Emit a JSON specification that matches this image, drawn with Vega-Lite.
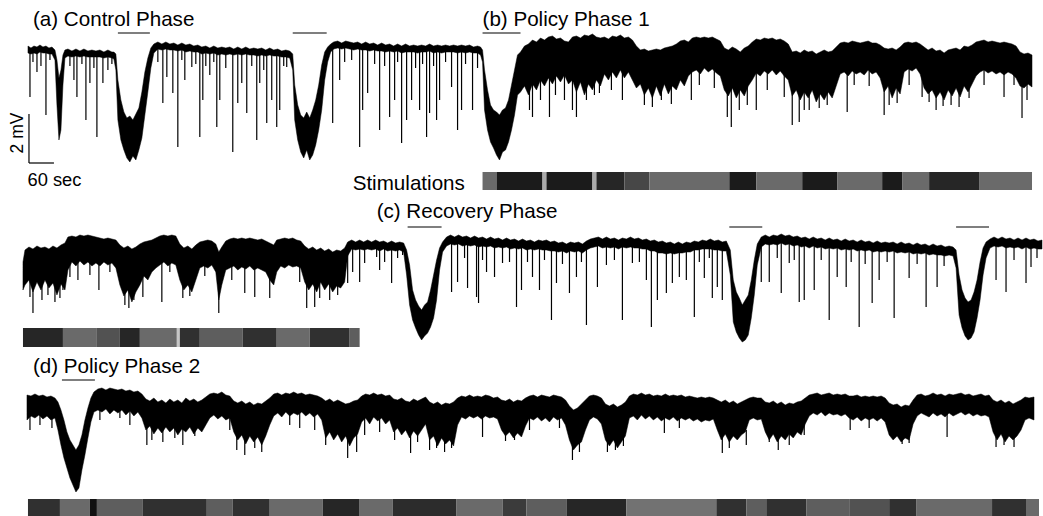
{
"$schema": "https://vega.github.io/schema/vega-lite/v6.json",
"width": 1043, "height": 516,
"autosize": {"type": "fit", "contains": "padding"},
"padding": 0,
"background": "white",
"config": {"view": {"stroke": null}, "font": "Liberation Sans"},
"datasets": {
"env": [
{"r":1,"t":28,"v":46,"v2":53},{"r":1,"t":31,"v":48,"v2":54},{"r":1,"t":34,"v":46,"v2":53},{"r":1,"t":37,"v":47,"v2":54},{"r":1,"t":40,"v":45,"v2":52},{"r":1,"t":43,"v":47,"v2":53},{"r":1,"t":46,"v":46,"v2":53},{"r":1,"t":49,"v":48,"v2":54},{"r":1,"t":52,"v":47,"v2":54},{"r":1,"t":55,"v":50,"v2":60},{"r":1,"t":57,"v":60,"v2":105},{"r":1,"t":59,"v":78,"v2":140},{"r":1,"t":61,"v":70,"v2":130},{"r":1,"t":63,"v":55,"v2":85},{"r":1,"t":65,"v":50,"v2":58},{"r":1,"t":68,"v":49,"v2":56},{"r":1,"t":72,"v":51,"v2":57},{"r":1,"t":76,"v":49,"v2":56},{"r":1,"t":80,"v":51,"v2":57},{"r":1,"t":84,"v":49,"v2":56},{"r":1,"t":88,"v":51,"v2":57},{"r":1,"t":92,"v":50,"v2":57},{"r":1,"t":96,"v":51,"v2":57},{"r":1,"t":100,"v":50,"v2":57},{"r":1,"t":104,"v":52,"v2":58},{"r":1,"t":108,"v":50,"v2":57},{"r":1,"t":112,"v":52,"v2":58},{"r":1,"t":114,"v":52,"v2":59},{"r":1,"t":116,"v":54,"v2":70},{"r":1,"t":118,"v":80,"v2":120},{"r":1,"t":121,"v":100,"v2":140},{"r":1,"t":124,"v":112,"v2":150},{"r":1,"t":127,"v":118,"v2":158},{"r":1,"t":130,"v":116,"v2":162},{"r":1,"t":133,"v":120,"v2":156},{"r":1,"t":136,"v":114,"v2":160},{"r":1,"t":139,"v":108,"v2":150},{"r":1,"t":142,"v":92,"v2":138},{"r":1,"t":145,"v":72,"v2":115},{"r":1,"t":148,"v":58,"v2":92},{"r":1,"t":151,"v":48,"v2":68},{"r":1,"t":154,"v":44,"v2":53},{"r":1,"t":158,"v":42,"v2":49},{"r":1,"t":162,"v":44,"v2":50},{"r":1,"t":166,"v":42,"v2":49},{"r":1,"t":170,"v":44,"v2":50},{"r":1,"t":174,"v":43,"v2":50},{"r":1,"t":178,"v":45,"v2":51},{"r":1,"t":182,"v":43,"v2":50},{"r":1,"t":186,"v":45,"v2":52},{"r":1,"t":190,"v":44,"v2":51},{"r":1,"t":194,"v":46,"v2":52},{"r":1,"t":198,"v":45,"v2":52},{"r":1,"t":202,"v":47,"v2":54},{"r":1,"t":206,"v":46,"v2":53},{"r":1,"t":210,"v":48,"v2":54},{"r":1,"t":214,"v":46,"v2":53},{"r":1,"t":218,"v":48,"v2":55},{"r":1,"t":222,"v":47,"v2":54},{"r":1,"t":226,"v":48,"v2":55},{"r":1,"t":230,"v":47,"v2":54},{"r":1,"t":234,"v":49,"v2":55},{"r":1,"t":238,"v":47,"v2":54},{"r":1,"t":242,"v":49,"v2":55},{"r":1,"t":246,"v":47,"v2":54},{"r":1,"t":250,"v":49,"v2":55},{"r":1,"t":254,"v":48,"v2":55},{"r":1,"t":258,"v":49,"v2":56},{"r":1,"t":262,"v":48,"v2":55},{"r":1,"t":266,"v":50,"v2":56},{"r":1,"t":270,"v":48,"v2":55},{"r":1,"t":274,"v":50,"v2":56},{"r":1,"t":278,"v":49,"v2":56},{"r":1,"t":282,"v":51,"v2":57},{"r":1,"t":286,"v":50,"v2":57},{"r":1,"t":290,"v":51,"v2":58},{"r":1,"t":293,"v":54,"v2":70},{"r":1,"t":295,"v":85,"v2":120},{"r":1,"t":298,"v":105,"v2":140},{"r":1,"t":301,"v":115,"v2":152},{"r":1,"t":304,"v":118,"v2":158},{"r":1,"t":307,"v":112,"v2":150},{"r":1,"t":310,"v":118,"v2":160},{"r":1,"t":313,"v":110,"v2":155},{"r":1,"t":316,"v":100,"v2":145},{"r":1,"t":319,"v":85,"v2":130},{"r":1,"t":322,"v":65,"v2":110},{"r":1,"t":325,"v":52,"v2":80},{"r":1,"t":328,"v":47,"v2":62},{"r":1,"t":331,"v":44,"v2":52},{"r":1,"t":334,"v":42,"v2":49},{"r":1,"t":338,"v":41,"v2":48},{"r":1,"t":342,"v":43,"v2":49},{"r":1,"t":346,"v":41,"v2":48},{"r":1,"t":350,"v":42,"v2":49},{"r":1,"t":354,"v":43,"v2":50},{"r":1,"t":358,"v":42,"v2":49},{"r":1,"t":362,"v":44,"v2":50},{"r":1,"t":366,"v":42,"v2":50},{"r":1,"t":370,"v":44,"v2":51},{"r":1,"t":374,"v":43,"v2":50},{"r":1,"t":378,"v":45,"v2":51},{"r":1,"t":382,"v":43,"v2":51},{"r":1,"t":386,"v":45,"v2":52},{"r":1,"t":390,"v":44,"v2":51},{"r":1,"t":394,"v":46,"v2":52},{"r":1,"t":398,"v":44,"v2":51},{"r":1,"t":402,"v":46,"v2":53},{"r":1,"t":406,"v":44,"v2":52},{"r":1,"t":410,"v":46,"v2":52},{"r":1,"t":414,"v":45,"v2":52},{"r":1,"t":418,"v":46,"v2":53},{"r":1,"t":422,"v":45,"v2":52},{"r":1,"t":426,"v":46,"v2":52},{"r":1,"t":430,"v":44,"v2":51},{"r":1,"t":434,"v":46,"v2":53},{"r":1,"t":438,"v":45,"v2":52},{"r":1,"t":442,"v":46,"v2":53},{"r":1,"t":446,"v":45,"v2":52},{"r":1,"t":450,"v":46,"v2":52},{"r":1,"t":454,"v":45,"v2":52},{"r":1,"t":458,"v":46,"v2":53},{"r":1,"t":462,"v":45,"v2":52},{"r":1,"t":466,"v":46,"v2":53},{"r":1,"t":470,"v":45,"v2":52},{"r":1,"t":474,"v":47,"v2":53},{"r":1,"t":478,"v":46,"v2":53},{"r":1,"t":481,"v":47,"v2":55},{"r":1,"t":483,"v":50,"v2":62},{"r":1,"t":485,"v":70,"v2":110},{"r":1,"t":488,"v":90,"v2":130},{"r":1,"t":491,"v":105,"v2":142},{"r":1,"t":494,"v":110,"v2":148},{"r":1,"t":497,"v":112,"v2":155},{"r":1,"t":500,"v":115,"v2":160},{"r":1,"t":503,"v":110,"v2":152},{"r":1,"t":506,"v":108,"v2":150},{"r":1,"t":509,"v":100,"v2":142},{"r":1,"t":512,"v":85,"v2":130},{"r":1,"t":515,"v":70,"v2":115},{"r":1,"t":518,"v":55,"v2":95},{"r":1,"t":521,"v":52,"v2":92},
{"r":1,"t":525,"v":46,"v2":86},{"r":1,"t":529,"v":44,"v2":95},{"r":1,"t":533,"v":40,"v2":84},{"r":1,"t":537,"v":42,"v2":90},{"r":1,"t":541,"v":38,"v2":80},{"r":1,"t":545,"v":40,"v2":86},{"r":1,"t":549,"v":37,"v2":78},{"r":1,"t":553,"v":36,"v2":84},{"r":1,"t":557,"v":39,"v2":76},{"r":1,"t":561,"v":38,"v2":82},{"r":1,"t":565,"v":41,"v2":75},{"r":1,"t":569,"v":42,"v2":84},{"r":1,"t":573,"v":37,"v2":80},{"r":1,"t":577,"v":36,"v2":92},{"r":1,"t":581,"v":38,"v2":82},{"r":1,"t":585,"v":35,"v2":95},{"r":1,"t":589,"v":36,"v2":84},{"r":1,"t":593,"v":34,"v2":90},{"r":1,"t":597,"v":37,"v2":80},{"r":1,"t":601,"v":38,"v2":86},{"r":1,"t":605,"v":37,"v2":74},{"r":1,"t":609,"v":39,"v2":80},{"r":1,"t":613,"v":36,"v2":72},{"r":1,"t":617,"v":37,"v2":78},{"r":1,"t":621,"v":35,"v2":70},{"r":1,"t":625,"v":38,"v2":78},{"r":1,"t":629,"v":37,"v2":72},{"r":1,"t":633,"v":40,"v2":80},{"r":1,"t":637,"v":46,"v2":88},{"r":1,"t":641,"v":50,"v2":84},{"r":1,"t":645,"v":49,"v2":95},{"r":1,"t":649,"v":51,"v2":88},{"r":1,"t":653,"v":50,"v2":98},{"r":1,"t":657,"v":49,"v2":86},{"r":1,"t":661,"v":50,"v2":96},{"r":1,"t":665,"v":48,"v2":84},{"r":1,"t":669,"v":47,"v2":94},{"r":1,"t":673,"v":46,"v2":86},{"r":1,"t":677,"v":44,"v2":90},{"r":1,"t":681,"v":41,"v2":80},{"r":1,"t":685,"v":40,"v2":86},{"r":1,"t":689,"v":42,"v2":76},{"r":1,"t":693,"v":38,"v2":72},{"r":1,"t":697,"v":37,"v2":70},{"r":1,"t":701,"v":38,"v2":74},{"r":1,"t":705,"v":37,"v2":68},{"r":1,"t":709,"v":38,"v2":72},{"r":1,"t":713,"v":37,"v2":69},{"r":1,"t":717,"v":39,"v2":73},{"r":1,"t":721,"v":41,"v2":76},{"r":1,"t":725,"v":48,"v2":90},{"r":1,"t":729,"v":50,"v2":96},{"r":1,"t":733,"v":47,"v2":88},{"r":1,"t":737,"v":49,"v2":98},{"r":1,"t":741,"v":52,"v2":90},{"r":1,"t":745,"v":48,"v2":96},{"r":1,"t":749,"v":46,"v2":86},{"r":1,"t":753,"v":42,"v2":80},{"r":1,"t":757,"v":39,"v2":73},{"r":1,"t":761,"v":40,"v2":76},{"r":1,"t":765,"v":38,"v2":71},{"r":1,"t":769,"v":39,"v2":74},{"r":1,"t":773,"v":38,"v2":70},{"r":1,"t":777,"v":40,"v2":75},{"r":1,"t":781,"v":39,"v2":71},{"r":1,"t":785,"v":41,"v2":76},{"r":1,"t":789,"v":44,"v2":80},{"r":1,"t":793,"v":52,"v2":96},{"r":1,"t":797,"v":51,"v2":90},{"r":1,"t":801,"v":53,"v2":100},{"r":1,"t":805,"v":50,"v2":92},{"r":1,"t":809,"v":52,"v2":98},{"r":1,"t":813,"v":51,"v2":90},{"r":1,"t":817,"v":54,"v2":102},{"r":1,"t":821,"v":52,"v2":94},{"r":1,"t":825,"v":50,"v2":100},{"r":1,"t":829,"v":52,"v2":92},{"r":1,"t":833,"v":51,"v2":98},{"r":1,"t":837,"v":47,"v2":86},{"r":1,"t":841,"v":43,"v2":74},{"r":1,"t":845,"v":42,"v2":72},{"r":1,"t":849,"v":43,"v2":76},{"r":1,"t":853,"v":41,"v2":71},{"r":1,"t":857,"v":42,"v2":74},{"r":1,"t":861,"v":43,"v2":72},{"r":1,"t":865,"v":42,"v2":75},{"r":1,"t":869,"v":41,"v2":70},{"r":1,"t":873,"v":43,"v2":74},{"r":1,"t":877,"v":43,"v2":72},{"r":1,"t":881,"v":45,"v2":78},{"r":1,"t":885,"v":48,"v2":92},{"r":1,"t":889,"v":49,"v2":86},{"r":1,"t":893,"v":48,"v2":98},{"r":1,"t":897,"v":50,"v2":88},{"r":1,"t":901,"v":47,"v2":94},{"r":1,"t":905,"v":43,"v2":72},{"r":1,"t":909,"v":42,"v2":69},{"r":1,"t":913,"v":43,"v2":71},{"r":1,"t":917,"v":42,"v2":68},{"r":1,"t":921,"v":44,"v2":74},{"r":1,"t":925,"v":47,"v2":88},{"r":1,"t":929,"v":50,"v2":94},{"r":1,"t":933,"v":48,"v2":90},{"r":1,"t":937,"v":51,"v2":98},{"r":1,"t":941,"v":50,"v2":92},{"r":1,"t":945,"v":53,"v2":100},{"r":1,"t":949,"v":50,"v2":90},{"r":1,"t":953,"v":49,"v2":96},{"r":1,"t":957,"v":48,"v2":88},{"r":1,"t":961,"v":50,"v2":97},{"r":1,"t":965,"v":46,"v2":86},{"r":1,"t":969,"v":47,"v2":92},{"r":1,"t":973,"v":45,"v2":84},{"r":1,"t":977,"v":42,"v2":76},{"r":1,"t":981,"v":41,"v2":72},{"r":1,"t":985,"v":40,"v2":70},{"r":1,"t":989,"v":42,"v2":73},{"r":1,"t":993,"v":41,"v2":71},{"r":1,"t":997,"v":42,"v2":74},{"r":1,"t":1001,"v":43,"v2":72},{"r":1,"t":1005,"v":42,"v2":75},{"r":1,"t":1009,"v":43,"v2":72},{"r":1,"t":1013,"v":44,"v2":74},{"r":1,"t":1017,"v":46,"v2":78},{"r":1,"t":1021,"v":52,"v2":86},{"r":1,"t":1025,"v":54,"v2":88},{"r":1,"t":1029,"v":53,"v2":84},{"r":1,"t":1033,"v":55,"v2":87},
{"r":2,"t":23,"v":262,"v2":290},{"r":2,"t":25,"v":250,"v2":285},{"r":2,"t":29,"v":247,"v2":280},{"r":2,"t":33,"v":249,"v2":292},{"r":2,"t":37,"v":246,"v2":282},{"r":2,"t":41,"v":248,"v2":290},{"r":2,"t":45,"v":247,"v2":280},{"r":2,"t":49,"v":249,"v2":288},{"r":2,"t":53,"v":246,"v2":283},{"r":2,"t":57,"v":248,"v2":295},{"r":2,"t":61,"v":245,"v2":284},{"r":2,"t":65,"v":243,"v2":290},{"r":2,"t":68,"v":237,"v2":270},{"r":2,"t":72,"v":236,"v2":262},{"r":2,"t":76,"v":237,"v2":266},{"r":2,"t":80,"v":235,"v2":261},{"r":2,"t":84,"v":236,"v2":265},{"r":2,"t":88,"v":235,"v2":262},{"r":2,"t":92,"v":236,"v2":266},{"r":2,"t":96,"v":237,"v2":263},{"r":2,"t":100,"v":238,"v2":266},{"r":2,"t":104,"v":239,"v2":262},{"r":2,"t":108,"v":238,"v2":265},{"r":2,"t":112,"v":239,"v2":263},{"r":2,"t":116,"v":240,"v2":268},{"r":2,"t":120,"v":245,"v2":285},{"r":2,"t":124,"v":248,"v2":296},{"r":2,"t":128,"v":246,"v2":290},{"r":2,"t":132,"v":249,"v2":302},{"r":2,"t":136,"v":247,"v2":292},{"r":2,"t":140,"v":244,"v2":285},{"r":2,"t":144,"v":242,"v2":276},{"r":2,"t":148,"v":241,"v2":280},{"r":2,"t":152,"v":240,"v2":272},{"r":2,"t":156,"v":238,"v2":268},{"r":2,"t":160,"v":236,"v2":265},{"r":2,"t":164,"v":235,"v2":262},{"r":2,"t":168,"v":236,"v2":266},{"r":2,"t":172,"v":235,"v2":263},{"r":2,"t":176,"v":236,"v2":265},{"r":2,"t":180,"v":244,"v2":280},{"r":2,"t":184,"v":248,"v2":290},{"r":2,"t":188,"v":246,"v2":285},{"r":2,"t":192,"v":249,"v2":292},{"r":2,"t":196,"v":245,"v2":280},{"r":2,"t":200,"v":242,"v2":268},{"r":2,"t":204,"v":241,"v2":266},{"r":2,"t":208,"v":240,"v2":268},{"r":2,"t":212,"v":241,"v2":265},{"r":2,"t":216,"v":244,"v2":272},{"r":2,"t":219,"v":252,"v2":300},{"r":2,"t":222,"v":247,"v2":285},{"r":2,"t":226,"v":241,"v2":270},{"r":2,"t":230,"v":239,"v2":268},{"r":2,"t":234,"v":238,"v2":266},{"r":2,"t":238,"v":239,"v2":270},{"r":2,"t":242,"v":238,"v2":267},{"r":2,"t":246,"v":239,"v2":269},{"r":2,"t":250,"v":238,"v2":266},{"r":2,"t":254,"v":239,"v2":270},{"r":2,"t":258,"v":240,"v2":268},{"r":2,"t":262,"v":239,"v2":270},{"r":2,"t":266,"v":241,"v2":272},{"r":2,"t":270,"v":243,"v2":280},{"r":2,"t":274,"v":245,"v2":285},{"r":2,"t":277,"v":240,"v2":272},{"r":2,"t":281,"v":239,"v2":266},{"r":2,"t":285,"v":238,"v2":268},{"r":2,"t":289,"v":239,"v2":265},{"r":2,"t":293,"v":238,"v2":267},{"r":2,"t":297,"v":240,"v2":266},{"r":2,"t":301,"v":241,"v2":268},{"r":2,"t":305,"v":246,"v2":282},{"r":2,"t":309,"v":249,"v2":290},{"r":2,"t":313,"v":247,"v2":284},{"r":2,"t":317,"v":250,"v2":292},{"r":2,"t":321,"v":248,"v2":282},{"r":2,"t":325,"v":251,"v2":290},{"r":2,"t":329,"v":249,"v2":284},{"r":2,"t":333,"v":252,"v2":292},{"r":2,"t":337,"v":250,"v2":286},{"r":2,"t":341,"v":251,"v2":288},{"r":2,"t":345,"v":248,"v2":282},
{"r":2,"t":348,"v":242,"v2":256},{"r":2,"t":352,"v":240,"v2":249},{"r":2,"t":356,"v":242,"v2":250},{"r":2,"t":360,"v":240,"v2":249},{"r":2,"t":364,"v":242,"v2":250},{"r":2,"t":368,"v":240,"v2":249},{"r":2,"t":372,"v":242,"v2":250},{"r":2,"t":376,"v":240,"v2":249},{"r":2,"t":380,"v":242,"v2":251},{"r":2,"t":384,"v":241,"v2":249},{"r":2,"t":388,"v":243,"v2":251},{"r":2,"t":392,"v":241,"v2":250},{"r":2,"t":396,"v":243,"v2":251},{"r":2,"t":400,"v":242,"v2":250},{"r":2,"t":404,"v":243,"v2":252},{"r":2,"t":407,"v":250,"v2":275},{"r":2,"t":410,"v":265,"v2":305},{"r":2,"t":413,"v":290,"v2":320},{"r":2,"t":416,"v":300,"v2":328},{"r":2,"t":419,"v":306,"v2":335},{"r":2,"t":422,"v":310,"v2":340},{"r":2,"t":425,"v":305,"v2":336},{"r":2,"t":428,"v":302,"v2":333},{"r":2,"t":431,"v":290,"v2":327},{"r":2,"t":434,"v":275,"v2":318},{"r":2,"t":437,"v":260,"v2":300},{"r":2,"t":440,"v":248,"v2":270},{"r":2,"t":443,"v":242,"v2":252},{"r":2,"t":447,"v":237,"v2":246},{"r":2,"t":451,"v":235,"v2":244},{"r":2,"t":455,"v":237,"v2":245},{"r":2,"t":459,"v":235,"v2":244},{"r":2,"t":463,"v":237,"v2":246},{"r":2,"t":467,"v":236,"v2":245},{"r":2,"t":471,"v":238,"v2":246},{"r":2,"t":475,"v":236,"v2":245},{"r":2,"t":479,"v":238,"v2":247},{"r":2,"t":483,"v":237,"v2":246},{"r":2,"t":487,"v":239,"v2":247},{"r":2,"t":491,"v":237,"v2":246},{"r":2,"t":495,"v":239,"v2":248},{"r":2,"t":499,"v":238,"v2":247},{"r":2,"t":503,"v":240,"v2":248},{"r":2,"t":507,"v":238,"v2":247},{"r":2,"t":511,"v":240,"v2":249},{"r":2,"t":515,"v":239,"v2":248},{"r":2,"t":519,"v":241,"v2":249},{"r":2,"t":523,"v":239,"v2":248},{"r":2,"t":527,"v":241,"v2":250},{"r":2,"t":531,"v":240,"v2":249},{"r":2,"t":535,"v":242,"v2":250},{"r":2,"t":539,"v":240,"v2":249},{"r":2,"t":543,"v":241,"v2":250},{"r":2,"t":547,"v":240,"v2":250},{"r":2,"t":551,"v":242,"v2":251},{"r":2,"t":555,"v":241,"v2":251},{"r":2,"t":559,"v":243,"v2":252},{"r":2,"t":563,"v":242,"v2":251},{"r":2,"t":567,"v":244,"v2":253},{"r":2,"t":571,"v":242,"v2":251},{"r":2,"t":575,"v":243,"v2":252},{"r":2,"t":579,"v":242,"v2":251},{"r":2,"t":583,"v":244,"v2":253},{"r":2,"t":587,"v":241,"v2":250},{"r":2,"t":591,"v":239,"v2":248},{"r":2,"t":595,"v":238,"v2":247},{"r":2,"t":599,"v":237,"v2":246},{"r":2,"t":603,"v":239,"v2":248},{"r":2,"t":607,"v":237,"v2":247},{"r":2,"t":611,"v":239,"v2":248},{"r":2,"t":615,"v":238,"v2":247},{"r":2,"t":619,"v":240,"v2":249},{"r":2,"t":623,"v":238,"v2":247},{"r":2,"t":627,"v":239,"v2":248},{"r":2,"t":631,"v":237,"v2":247},{"r":2,"t":635,"v":239,"v2":248},{"r":2,"t":639,"v":238,"v2":248},{"r":2,"t":643,"v":240,"v2":249},{"r":2,"t":647,"v":239,"v2":249},{"r":2,"t":651,"v":241,"v2":251},{"r":2,"t":655,"v":240,"v2":251},{"r":2,"t":659,"v":242,"v2":253},{"r":2,"t":663,"v":241,"v2":253},{"r":2,"t":667,"v":243,"v2":254},{"r":2,"t":671,"v":242,"v2":253},{"r":2,"t":675,"v":244,"v2":254},{"r":2,"t":679,"v":242,"v2":253},{"r":2,"t":683,"v":244,"v2":253},{"r":2,"t":687,"v":242,"v2":252},{"r":2,"t":691,"v":243,"v2":252},{"r":2,"t":695,"v":241,"v2":250},{"r":2,"t":699,"v":242,"v2":250},{"r":2,"t":703,"v":240,"v2":249},{"r":2,"t":707,"v":241,"v2":249},{"r":2,"t":711,"v":239,"v2":249},{"r":2,"t":715,"v":241,"v2":250},{"r":2,"t":719,"v":240,"v2":250},{"r":2,"t":723,"v":242,"v2":251},{"r":2,"t":727,"v":241,"v2":251},{"r":2,"t":731,"v":250,"v2":275},{"r":2,"t":734,"v":280,"v2":322},{"r":2,"t":737,"v":292,"v2":332},{"r":2,"t":740,"v":298,"v2":338},{"r":2,"t":743,"v":305,"v2":342},{"r":2,"t":746,"v":300,"v2":340},{"r":2,"t":749,"v":295,"v2":335},{"r":2,"t":752,"v":280,"v2":318},{"r":2,"t":755,"v":260,"v2":295},{"r":2,"t":758,"v":244,"v2":265},{"r":2,"t":762,"v":237,"v2":247},{"r":2,"t":766,"v":235,"v2":244},{"r":2,"t":770,"v":237,"v2":245},{"r":2,"t":774,"v":235,"v2":244},{"r":2,"t":778,"v":236,"v2":245},{"r":2,"t":782,"v":234,"v2":243},{"r":2,"t":786,"v":236,"v2":245},{"r":2,"t":790,"v":235,"v2":244},{"r":2,"t":794,"v":237,"v2":246},{"r":2,"t":798,"v":236,"v2":245},{"r":2,"t":802,"v":238,"v2":247},{"r":2,"t":806,"v":237,"v2":246},{"r":2,"t":810,"v":239,"v2":248},{"r":2,"t":814,"v":237,"v2":246},{"r":2,"t":818,"v":239,"v2":248},{"r":2,"t":822,"v":238,"v2":247},{"r":2,"t":826,"v":240,"v2":249},{"r":2,"t":830,"v":238,"v2":248},{"r":2,"t":834,"v":240,"v2":249},{"r":2,"t":838,"v":239,"v2":248},{"r":2,"t":842,"v":241,"v2":250},{"r":2,"t":846,"v":239,"v2":249},{"r":2,"t":850,"v":241,"v2":250},{"r":2,"t":854,"v":240,"v2":249},{"r":2,"t":858,"v":242,"v2":251},{"r":2,"t":862,"v":240,"v2":250},{"r":2,"t":866,"v":242,"v2":251},{"r":2,"t":870,"v":241,"v2":250},{"r":2,"t":874,"v":243,"v2":252},{"r":2,"t":878,"v":241,"v2":251},{"r":2,"t":882,"v":243,"v2":252},{"r":2,"t":886,"v":242,"v2":251},{"r":2,"t":890,"v":243,"v2":252},{"r":2,"t":894,"v":242,"v2":251},{"r":2,"t":898,"v":244,"v2":253},{"r":2,"t":902,"v":242,"v2":252},{"r":2,"t":906,"v":244,"v2":253},{"r":2,"t":910,"v":243,"v2":252},{"r":2,"t":914,"v":245,"v2":254},{"r":2,"t":918,"v":243,"v2":253},{"r":2,"t":922,"v":245,"v2":254},{"r":2,"t":926,"v":244,"v2":253},{"r":2,"t":930,"v":246,"v2":255},{"r":2,"t":934,"v":244,"v2":254},{"r":2,"t":938,"v":246,"v2":255},{"r":2,"t":942,"v":245,"v2":255},{"r":2,"t":946,"v":247,"v2":256},{"r":2,"t":950,"v":246,"v2":255},{"r":2,"t":954,"v":247,"v2":256},{"r":2,"t":957,"v":250,"v2":268},{"r":2,"t":960,"v":275,"v2":315},{"r":2,"t":963,"v":290,"v2":328},{"r":2,"t":966,"v":298,"v2":336},{"r":2,"t":969,"v":302,"v2":340},{"r":2,"t":972,"v":300,"v2":338},{"r":2,"t":975,"v":292,"v2":332},{"r":2,"t":978,"v":280,"v2":318},{"r":2,"t":981,"v":262,"v2":300},{"r":2,"t":984,"v":248,"v2":275},{"r":2,"t":987,"v":242,"v2":258},{"r":2,"t":991,"v":239,"v2":248},{"r":2,"t":995,"v":237,"v2":246},{"r":2,"t":999,"v":239,"v2":247},{"r":2,"t":1003,"v":237,"v2":246},{"r":2,"t":1007,"v":239,"v2":248},{"r":2,"t":1011,"v":238,"v2":247},{"r":2,"t":1015,"v":240,"v2":248},{"r":2,"t":1019,"v":238,"v2":247},{"r":2,"t":1023,"v":240,"v2":249},{"r":2,"t":1027,"v":238,"v2":247},{"r":2,"t":1031,"v":240,"v2":249},{"r":2,"t":1035,"v":239,"v2":248},{"r":2,"t":1039,"v":241,"v2":249},{"r":2,"t":1043,"v":240,"v2":249},
{"r":3,"t":27,"v":395,"v2":420},{"r":3,"t":31,"v":396,"v2":416},{"r":3,"t":35,"v":394,"v2":418},{"r":3,"t":39,"v":396,"v2":415},{"r":3,"t":43,"v":395,"v2":419},{"r":3,"t":47,"v":397,"v2":416},{"r":3,"t":51,"v":396,"v2":420},{"r":3,"t":55,"v":398,"v2":418},{"r":3,"t":58,"v":402,"v2":430},{"r":3,"t":61,"v":410,"v2":445},{"r":3,"t":64,"v":420,"v2":458},{"r":3,"t":67,"v":432,"v2":468},{"r":3,"t":70,"v":440,"v2":478},{"r":3,"t":73,"v":445,"v2":485},{"r":3,"t":76,"v":450,"v2":492},{"r":3,"t":79,"v":445,"v2":488},{"r":3,"t":82,"v":435,"v2":470},{"r":3,"t":85,"v":420,"v2":455},{"r":3,"t":88,"v":408,"v2":438},{"r":3,"t":91,"v":398,"v2":422},{"r":3,"t":94,"v":392,"v2":412},{"r":3,"t":98,"v":389,"v2":410},{"r":3,"t":102,"v":388,"v2":412},{"r":3,"t":106,"v":390,"v2":409},{"r":3,"t":110,"v":388,"v2":414},{"r":3,"t":114,"v":389,"v2":410},{"r":3,"t":118,"v":390,"v2":413},{"r":3,"t":122,"v":389,"v2":410},{"r":3,"t":126,"v":391,"v2":415},{"r":3,"t":130,"v":390,"v2":411},{"r":3,"t":134,"v":392,"v2":416},{"r":3,"t":138,"v":391,"v2":412},{"r":3,"t":142,"v":394,"v2":418},{"r":3,"t":146,"v":399,"v2":430},{"r":3,"t":150,"v":401,"v2":426},{"r":3,"t":154,"v":398,"v2":434},{"r":3,"t":158,"v":402,"v2":428},{"r":3,"t":162,"v":400,"v2":433},{"r":3,"t":166,"v":403,"v2":427},{"r":3,"t":170,"v":399,"v2":432},{"r":3,"t":174,"v":402,"v2":428},{"r":3,"t":178,"v":400,"v2":435},{"r":3,"t":182,"v":403,"v2":429},{"r":3,"t":186,"v":398,"v2":432},{"r":3,"t":190,"v":401,"v2":427},{"r":3,"t":194,"v":399,"v2":434},{"r":3,"t":198,"v":402,"v2":428},{"r":3,"t":202,"v":400,"v2":432},{"r":3,"t":206,"v":397,"v2":425},{"r":3,"t":210,"v":394,"v2":418},{"r":3,"t":214,"v":393,"v2":415},{"r":3,"t":218,"v":394,"v2":419},{"r":3,"t":222,"v":392,"v2":416},{"r":3,"t":226,"v":395,"v2":420},{"r":3,"t":230,"v":396,"v2":418},{"r":3,"t":234,"v":401,"v2":432},{"r":3,"t":238,"v":403,"v2":440},{"r":3,"t":242,"v":401,"v2":435},{"r":3,"t":246,"v":404,"v2":444},{"r":3,"t":250,"v":402,"v2":436},{"r":3,"t":254,"v":405,"v2":442},{"r":3,"t":258,"v":403,"v2":437},{"r":3,"t":262,"v":404,"v2":445},{"r":3,"t":266,"v":401,"v2":436},{"r":3,"t":270,"v":398,"v2":425},{"r":3,"t":274,"v":394,"v2":416},{"r":3,"t":278,"v":393,"v2":413},{"r":3,"t":282,"v":395,"v2":417},{"r":3,"t":286,"v":393,"v2":412},{"r":3,"t":290,"v":394,"v2":416},{"r":3,"t":294,"v":392,"v2":413},{"r":3,"t":298,"v":394,"v2":415},{"r":3,"t":302,"v":393,"v2":412},{"r":3,"t":306,"v":395,"v2":416},{"r":3,"t":310,"v":394,"v2":413},{"r":3,"t":314,"v":395,"v2":417},{"r":3,"t":318,"v":396,"v2":414},{"r":3,"t":322,"v":398,"v2":420},{"r":3,"t":326,"v":401,"v2":438},{"r":3,"t":330,"v":399,"v2":432},{"r":3,"t":334,"v":402,"v2":440},{"r":3,"t":338,"v":400,"v2":434},{"r":3,"t":342,"v":402,"v2":442},{"r":3,"t":346,"v":404,"v2":436},{"r":3,"t":350,"v":403,"v2":446},{"r":3,"t":354,"v":401,"v2":438},{"r":3,"t":358,"v":400,"v2":434},{"r":3,"t":362,"v":396,"v2":422},{"r":3,"t":366,"v":394,"v2":418},{"r":3,"t":370,"v":395,"v2":424},{"r":3,"t":374,"v":393,"v2":417},{"r":3,"t":378,"v":395,"v2":421},{"r":3,"t":382,"v":394,"v2":418},{"r":3,"t":386,"v":396,"v2":424},{"r":3,"t":390,"v":395,"v2":420},{"r":3,"t":394,"v":399,"v2":432},{"r":3,"t":398,"v":400,"v2":428},{"r":3,"t":402,"v":398,"v2":435},{"r":3,"t":406,"v":401,"v2":430},{"r":3,"t":410,"v":402,"v2":438},{"r":3,"t":414,"v":399,"v2":431},{"r":3,"t":418,"v":401,"v2":436},{"r":3,"t":422,"v":399,"v2":430},{"r":3,"t":426,"v":397,"v2":424},{"r":3,"t":430,"v":402,"v2":440},{"r":3,"t":434,"v":404,"v2":436},{"r":3,"t":438,"v":402,"v2":446},{"r":3,"t":442,"v":405,"v2":438},{"r":3,"t":446,"v":403,"v2":444},{"r":3,"t":450,"v":404,"v2":440},{"r":3,"t":454,"v":402,"v2":446},{"r":3,"t":458,"v":398,"v2":425},{"r":3,"t":462,"v":396,"v2":417},{"r":3,"t":466,"v":397,"v2":419},{"r":3,"t":470,"v":395,"v2":416},{"r":3,"t":474,"v":397,"v2":418},{"r":3,"t":478,"v":396,"v2":416},{"r":3,"t":482,"v":397,"v2":419},{"r":3,"t":486,"v":395,"v2":416},{"r":3,"t":490,"v":396,"v2":418},{"r":3,"t":494,"v":398,"v2":417},{"r":3,"t":498,"v":397,"v2":419},{"r":3,"t":502,"v":400,"v2":430},{"r":3,"t":506,"v":401,"v2":436},{"r":3,"t":510,"v":399,"v2":432},{"r":3,"t":514,"v":402,"v2":438},{"r":3,"t":518,"v":400,"v2":433},{"r":3,"t":522,"v":401,"v2":437},{"r":3,"t":526,"v":398,"v2":426},{"r":3,"t":530,"v":396,"v2":418},{"r":3,"t":534,"v":395,"v2":420},{"r":3,"t":538,"v":397,"v2":417},{"r":3,"t":542,"v":395,"v2":421},{"r":3,"t":546,"v":396,"v2":418},{"r":3,"t":550,"v":397,"v2":422},{"r":3,"t":554,"v":395,"v2":417},{"r":3,"t":558,"v":396,"v2":420},{"r":3,"t":562,"v":397,"v2":418},{"r":3,"t":566,"v":400,"v2":425},{"r":3,"t":570,"v":406,"v2":440},{"r":3,"t":574,"v":410,"v2":450},{"r":3,"t":578,"v":408,"v2":445},{"r":3,"t":582,"v":404,"v2":442},{"r":3,"t":586,"v":400,"v2":430},{"r":3,"t":590,"v":396,"v2":420},{"r":3,"t":594,"v":395,"v2":417},{"r":3,"t":598,"v":396,"v2":419},{"r":3,"t":602,"v":398,"v2":424},{"r":3,"t":606,"v":404,"v2":440},{"r":3,"t":610,"v":406,"v2":446},{"r":3,"t":614,"v":404,"v2":440},{"r":3,"t":618,"v":407,"v2":448},{"r":3,"t":622,"v":405,"v2":442},{"r":3,"t":626,"v":402,"v2":436},{"r":3,"t":630,"v":396,"v2":418},{"r":3,"t":634,"v":394,"v2":416},{"r":3,"t":638,"v":395,"v2":420},{"r":3,"t":642,"v":393,"v2":415},{"r":3,"t":646,"v":395,"v2":419},{"r":3,"t":650,"v":394,"v2":416},{"r":3,"t":654,"v":396,"v2":420},{"r":3,"t":658,"v":395,"v2":417},{"r":3,"t":662,"v":396,"v2":421},{"r":3,"t":666,"v":394,"v2":418},{"r":3,"t":670,"v":396,"v2":420},{"r":3,"t":674,"v":395,"v2":417},{"r":3,"t":678,"v":396,"v2":421},{"r":3,"t":682,"v":395,"v2":418},{"r":3,"t":686,"v":397,"v2":420},{"r":3,"t":690,"v":396,"v2":418},{"r":3,"t":694,"v":397,"v2":421},{"r":3,"t":698,"v":398,"v2":419},{"r":3,"t":702,"v":397,"v2":422},{"r":3,"t":706,"v":398,"v2":420},{"r":3,"t":710,"v":397,"v2":421},{"r":3,"t":714,"v":398,"v2":419},{"r":3,"t":718,"v":400,"v2":430},{"r":3,"t":722,"v":402,"v2":440},{"r":3,"t":726,"v":400,"v2":434},{"r":3,"t":730,"v":403,"v2":442},{"r":3,"t":734,"v":401,"v2":436},{"r":3,"t":738,"v":404,"v2":440},{"r":3,"t":742,"v":402,"v2":435},{"r":3,"t":746,"v":400,"v2":432},{"r":3,"t":750,"v":398,"v2":420},{"r":3,"t":754,"v":397,"v2":418},{"r":3,"t":758,"v":398,"v2":420},{"r":3,"t":762,"v":398,"v2":419},{"r":3,"t":766,"v":402,"v2":432},{"r":3,"t":770,"v":403,"v2":440},{"r":3,"t":774,"v":401,"v2":434},{"r":3,"t":778,"v":404,"v2":442},{"r":3,"t":782,"v":402,"v2":436},{"r":3,"t":786,"v":405,"v2":440},{"r":3,"t":790,"v":403,"v2":434},{"r":3,"t":794,"v":404,"v2":438},{"r":3,"t":798,"v":402,"v2":432},{"r":3,"t":802,"v":401,"v2":435},{"r":3,"t":806,"v":398,"v2":424},{"r":3,"t":810,"v":395,"v2":416},{"r":3,"t":814,"v":394,"v2":413},{"r":3,"t":818,"v":393,"v2":415},{"r":3,"t":822,"v":395,"v2":412},{"r":3,"t":826,"v":394,"v2":416},{"r":3,"t":830,"v":393,"v2":413},{"r":3,"t":834,"v":395,"v2":415},{"r":3,"t":838,"v":394,"v2":414},{"r":3,"t":842,"v":395,"v2":416},{"r":3,"t":846,"v":394,"v2":414},{"r":3,"t":850,"v":396,"v2":418},{"r":3,"t":854,"v":396,"v2":420},{"r":3,"t":858,"v":395,"v2":417},{"r":3,"t":862,"v":397,"v2":421},{"r":3,"t":866,"v":396,"v2":418},{"r":3,"t":870,"v":397,"v2":420},{"r":3,"t":874,"v":396,"v2":418},{"r":3,"t":878,"v":397,"v2":421},{"r":3,"t":882,"v":396,"v2":418},{"r":3,"t":886,"v":398,"v2":422},{"r":3,"t":890,"v":403,"v2":435},{"r":3,"t":894,"v":405,"v2":440},{"r":3,"t":898,"v":404,"v2":436},{"r":3,"t":902,"v":407,"v2":442},{"r":3,"t":906,"v":405,"v2":438},{"r":3,"t":910,"v":406,"v2":440},{"r":3,"t":914,"v":400,"v2":424},{"r":3,"t":918,"v":395,"v2":416},{"r":3,"t":922,"v":394,"v2":413},{"r":3,"t":926,"v":396,"v2":415},{"r":3,"t":930,"v":395,"v2":417},{"r":3,"t":934,"v":393,"v2":413},{"r":3,"t":938,"v":395,"v2":416},{"r":3,"t":942,"v":394,"v2":414},{"r":3,"t":946,"v":396,"v2":417},{"r":3,"t":950,"v":394,"v2":413},{"r":3,"t":954,"v":395,"v2":416},{"r":3,"t":958,"v":394,"v2":414},{"r":3,"t":962,"v":393,"v2":412},{"r":3,"t":966,"v":395,"v2":415},{"r":3,"t":970,"v":394,"v2":413},{"r":3,"t":974,"v":396,"v2":416},{"r":3,"t":978,"v":395,"v2":414},{"r":3,"t":982,"v":394,"v2":416},{"r":3,"t":986,"v":396,"v2":415},{"r":3,"t":990,"v":395,"v2":417},{"r":3,"t":994,"v":400,"v2":432},{"r":3,"t":998,"v":402,"v2":440},{"r":3,"t":1002,"v":400,"v2":434},{"r":3,"t":1006,"v":403,"v2":442},{"r":3,"t":1010,"v":401,"v2":436},{"r":3,"t":1014,"v":404,"v2":440},{"r":3,"t":1018,"v":402,"v2":436},{"r":3,"t":1022,"v":400,"v2":430},{"r":3,"t":1026,"v":397,"v2":420},{"r":3,"t":1030,"v":398,"v2":418},{"r":3,"t":1035,"v":397,"v2":420}
],
"spk": [
{"t":30,"v":52,"v2":97},{"t":33,"v":52,"v2":62},{"t":37,"v":52,"v2":72},{"t":41,"v":52,"v2":66},{"t":46,"v":52,"v2":115},{"t":50,"v":52,"v2":60},{"t":70,"v":54,"v2":66},{"t":74,"v":54,"v2":80},{"t":77,"v":54,"v2":97},{"t":82,"v":54,"v2":64},{"t":86,"v":54,"v2":120},{"t":90,"v":54,"v2":83},{"t":94,"v":54,"v2":68},{"t":97,"v":54,"v2":137},{"t":103,"v":54,"v2":83},{"t":108,"v":54,"v2":70},{"t":112,"v":54,"v2":64},{"t":158,"v":48,"v2":62},{"t":163,"v":48,"v2":103},{"t":167,"v":48,"v2":77},{"t":173,"v":48,"v2":93},{"t":178,"v":48,"v2":147},{"t":182,"v":48,"v2":60},{"t":185,"v":48,"v2":80},{"t":192,"v":48,"v2":67},{"t":196,"v":50,"v2":64},{"t":200,"v":50,"v2":137},{"t":203,"v":50,"v2":100},{"t":206,"v":50,"v2":66},{"t":210,"v":50,"v2":75},{"t":214,"v":50,"v2":62},{"t":217,"v":52,"v2":127},{"t":220,"v":52,"v2":100},{"t":226,"v":52,"v2":68},{"t":233,"v":52,"v2":152},{"t":238,"v":52,"v2":103},{"t":242,"v":52,"v2":83},{"t":247,"v":52,"v2":113},{"t":252,"v":52,"v2":66},{"t":257,"v":52,"v2":140},{"t":260,"v":52,"v2":83},{"t":264,"v":52,"v2":70},{"t":267,"v":52,"v2":123},{"t":272,"v":52,"v2":100},{"t":277,"v":52,"v2":127},{"t":280,"v":52,"v2":110},{"t":284,"v":52,"v2":66},{"t":287,"v":52,"v2":67},{"t":333,"v":46,"v2":123},{"t":340,"v":46,"v2":80},{"t":345,"v":46,"v2":62},{"t":352,"v":46,"v2":60},{"t":360,"v":48,"v2":147},{"t":363,"v":48,"v2":110},{"t":368,"v":48,"v2":93},{"t":375,"v":48,"v2":64},{"t":380,"v":48,"v2":130},{"t":385,"v":48,"v2":66},{"t":390,"v":48,"v2":117},{"t":395,"v":48,"v2":100},{"t":398,"v":48,"v2":62},{"t":402,"v":48,"v2":143},{"t":407,"v":48,"v2":120},{"t":412,"v":48,"v2":100},{"t":416,"v":48,"v2":68},{"t":420,"v":48,"v2":110},{"t":423,"v":48,"v2":64},{"t":427,"v":48,"v2":137},{"t":430,"v":48,"v2":113},{"t":434,"v":50,"v2":66},{"t":437,"v":50,"v2":120},{"t":440,"v":50,"v2":100},{"t":446,"v":50,"v2":62},{"t":452,"v":50,"v2":87},{"t":458,"v":50,"v2":130},{"t":462,"v":50,"v2":110},{"t":466,"v":50,"v2":64},{"t":473,"v":50,"v2":110},{"t":478,"v":50,"v2":68},
{"t":530,"v":80,"v2":110},{"t":533,"v":80,"v2":117},{"t":541,"v":75,"v2":100},{"t":550,"v":75,"v2":117},{"t":556,"v":75,"v2":95},{"t":565,"v":75,"v2":100},{"t":573,"v":75,"v2":110},{"t":577,"v":75,"v2":117},{"t":587,"v":75,"v2":100},{"t":595,"v":75,"v2":95},{"t":600,"v":75,"v2":93},{"t":612,"v":70,"v2":90},{"t":623,"v":70,"v2":100},{"t":645,"v":85,"v2":105},{"t":653,"v":85,"v2":107},{"t":662,"v":85,"v2":100},{"t":672,"v":85,"v2":104},{"t":692,"v":70,"v2":100},{"t":700,"v":70,"v2":85},{"t":715,"v":70,"v2":88},{"t":728,"v":85,"v2":117},{"t":732,"v":85,"v2":127},{"t":740,"v":85,"v2":110},{"t":748,"v":85,"v2":105},{"t":757,"v":70,"v2":110},{"t":768,"v":70,"v2":90},{"t":785,"v":70,"v2":97},{"t":793,"v":90,"v2":125},{"t":800,"v":90,"v2":122},{"t":805,"v":90,"v2":110},{"t":810,"v":90,"v2":110},{"t":820,"v":90,"v2":108},{"t":828,"v":90,"v2":105},{"t":848,"v":70,"v2":112},{"t":855,"v":70,"v2":85},{"t":870,"v":70,"v2":86},{"t":885,"v":85,"v2":115},{"t":890,"v":85,"v2":105},{"t":898,"v":85,"v2":103},{"t":910,"v":68,"v2":85},{"t":923,"v":70,"v2":97},{"t":930,"v":88,"v2":102},{"t":937,"v":88,"v2":110},{"t":944,"v":88,"v2":106},{"t":952,"v":88,"v2":105},{"t":960,"v":88,"v2":107},{"t":970,"v":85,"v2":98},{"t":985,"v":70,"v2":85},{"t":1005,"v":70,"v2":97},{"t":1015,"v":70,"v2":85},{"t":1023,"v":84,"v2":118},{"t":1028,"v":84,"v2":100},
{"t":30,"v":280,"v2":297},{"t":33,"v":280,"v2":313},{"t":42,"v":280,"v2":300},{"t":48,"v":280,"v2":295},{"t":55,"v":280,"v2":302},{"t":60,"v":280,"v2":298},{"t":63,"v":280,"v2":290},{"t":70,"v":262,"v2":277},{"t":78,"v":262,"v2":280},{"t":90,"v":262,"v2":275},{"t":99,"v":262,"v2":290},{"t":110,"v":262,"v2":272},{"t":125,"v":285,"v2":305},{"t":129,"v":285,"v2":308},{"t":134,"v":285,"v2":300},{"t":143,"v":275,"v2":297},{"t":162,"v":262,"v2":302},{"t":170,"v":262,"v2":272},{"t":183,"v":280,"v2":298},{"t":190,"v":280,"v2":296},{"t":205,"v":265,"v2":276},{"t":219,"v":290,"v2":313},{"t":232,"v":266,"v2":280},{"t":245,"v":266,"v2":293},{"t":255,"v":266,"v2":297},{"t":270,"v":278,"v2":298},{"t":300,"v":265,"v2":282},{"t":307,"v":282,"v2":308},{"t":315,"v":282,"v2":307},{"t":320,"v":282,"v2":298},{"t":330,"v":282,"v2":300},{"t":338,"v":282,"v2":295},
{"t":348,"v":248,"v2":283},{"t":353,"v":248,"v2":272},{"t":360,"v":248,"v2":282},{"t":365,"v":248,"v2":263},{"t":377,"v":248,"v2":257},{"t":380,"v":248,"v2":270},{"t":385,"v":248,"v2":262},{"t":392,"v":248,"v2":283},{"t":398,"v":248,"v2":258},{"t":403,"v":248,"v2":255},{"t":452,"v":244,"v2":292},{"t":458,"v":244,"v2":282},{"t":465,"v":244,"v2":258},{"t":468,"v":244,"v2":288},{"t":477,"v":245,"v2":297},{"t":479,"v":245,"v2":303},{"t":483,"v":245,"v2":260},{"t":487,"v":245,"v2":272},{"t":495,"v":246,"v2":277},{"t":503,"v":246,"v2":263},{"t":510,"v":246,"v2":262},{"t":517,"v":247,"v2":307},{"t":522,"v":247,"v2":290},{"t":528,"v":248,"v2":262},{"t":533,"v":248,"v2":277},{"t":540,"v":248,"v2":290},{"t":545,"v":248,"v2":260},{"t":552,"v":249,"v2":320},{"t":557,"v":249,"v2":283},{"t":563,"v":250,"v2":264},{"t":570,"v":250,"v2":293},{"t":577,"v":250,"v2":277},{"t":582,"v":250,"v2":262},{"t":587,"v":249,"v2":325},{"t":598,"v":246,"v2":287},{"t":607,"v":246,"v2":265},{"t":615,"v":246,"v2":260},{"t":623,"v":246,"v2":320},{"t":633,"v":246,"v2":263},{"t":640,"v":247,"v2":262},{"t":647,"v":247,"v2":280},{"t":652,"v":249,"v2":327},{"t":658,"v":251,"v2":300},{"t":667,"v":252,"v2":293},{"t":673,"v":252,"v2":283},{"t":680,"v":252,"v2":277},{"t":687,"v":251,"v2":280},{"t":695,"v":249,"v2":317},{"t":700,"v":248,"v2":262},{"t":705,"v":248,"v2":278},{"t":710,"v":248,"v2":258},{"t":713,"v":248,"v2":298},{"t":718,"v":248,"v2":287},{"t":723,"v":249,"v2":300},{"t":762,"v":245,"v2":282},{"t":770,"v":244,"v2":282},{"t":778,"v":244,"v2":258},{"t":782,"v":243,"v2":293},{"t":790,"v":243,"v2":263},{"t":795,"v":245,"v2":260},{"t":800,"v":246,"v2":302},{"t":805,"v":246,"v2":300},{"t":815,"v":246,"v2":290},{"t":822,"v":246,"v2":260},{"t":830,"v":247,"v2":320},{"t":838,"v":247,"v2":277},{"t":847,"v":248,"v2":287},{"t":852,"v":248,"v2":262},{"t":860,"v":249,"v2":327},{"t":866,"v":250,"v2":264},{"t":873,"v":250,"v2":303},{"t":880,"v":250,"v2":280},{"t":888,"v":250,"v2":262},{"t":895,"v":251,"v2":318},{"t":910,"v":251,"v2":278},{"t":918,"v":252,"v2":264},{"t":927,"v":252,"v2":307},{"t":938,"v":253,"v2":287},{"t":945,"v":254,"v2":266},{"t":997,"v":246,"v2":280},{"t":1007,"v":246,"v2":292},{"t":1015,"v":246,"v2":260},{"t":1027,"v":246,"v2":283},{"t":1032,"v":246,"v2":267},{"t":1038,"v":247,"v2":258},
{"t":30,"v":415,"v2":430},{"t":40,"v":415,"v2":425},{"t":52,"v":415,"v2":428},{"t":100,"v":408,"v2":420},{"t":120,"v":408,"v2":418},{"t":130,"v":408,"v2":425},{"t":147,"v":425,"v2":445},{"t":152,"v":425,"v2":440},{"t":163,"v":425,"v2":442},{"t":175,"v":425,"v2":438},{"t":183,"v":425,"v2":445},{"t":195,"v":425,"v2":436},{"t":230,"v":415,"v2":430},{"t":237,"v":432,"v2":450},{"t":245,"v":432,"v2":455},{"t":255,"v":432,"v2":448},{"t":262,"v":432,"v2":452},{"t":290,"v":412,"v2":425},{"t":300,"v":412,"v2":428},{"t":315,"v":412,"v2":430},{"t":326,"v":432,"v2":445},{"t":348,"v":432,"v2":458},{"t":357,"v":432,"v2":452},{"t":365,"v":416,"v2":435},{"t":380,"v":416,"v2":432},{"t":395,"v":428,"v2":440},{"t":411,"v":428,"v2":453},{"t":418,"v":428,"v2":442},{"t":430,"v":436,"v2":450},{"t":437,"v":436,"v2":448},{"t":445,"v":436,"v2":452},{"t":452,"v":436,"v2":448},{"t":483,"v":415,"v2":437},{"t":506,"v":432,"v2":441},{"t":515,"v":432,"v2":440},{"t":530,"v":416,"v2":430},{"t":560,"v":416,"v2":428},{"t":573,"v":440,"v2":460},{"t":580,"v":440,"v2":452},{"t":608,"v":438,"v2":452},{"t":616,"v":438,"v2":450},{"t":624,"v":436,"v2":446},{"t":665,"v":416,"v2":433},{"t":680,"v":416,"v2":428},{"t":723,"v":430,"v2":453},{"t":730,"v":430,"v2":448},{"t":747,"v":430,"v2":445},{"t":770,"v":432,"v2":442},{"t":779,"v":432,"v2":450},{"t":790,"v":432,"v2":445},{"t":805,"v":424,"v2":435},{"t":851,"v":416,"v2":430},{"t":870,"v":416,"v2":428},{"t":903,"v":435,"v2":444},{"t":910,"v":435,"v2":443},{"t":948,"v":414,"v2":437},{"t":997,"v":432,"v2":447},{"t":1005,"v":432,"v2":445},{"t":1015,"v":432,"v2":447}
],
"stim": [
{"t":483,"t2":497,"v":172,"v2":190,"d":0.55},{"t":497,"t2":543,"v":172,"v2":190,"d":0.9},{"t":543,"t2":547,"v":172,"v2":190,"d":0.3},{"t":547,"t2":593,"v":172,"v2":190,"d":0.9},{"t":593,"t2":597,"v":172,"v2":190,"d":0.3},{"t":597,"t2":625,"v":172,"v2":190,"d":0.85},{"t":625,"t2":650,"v":172,"v2":190,"d":0.7},{"t":650,"t2":730,"v":172,"v2":190,"d":0.55},{"t":730,"t2":757,"v":172,"v2":190,"d":0.9},{"t":757,"t2":803,"v":172,"v2":190,"d":0.55},{"t":803,"t2":838,"v":172,"v2":190,"d":0.9},{"t":838,"t2":883,"v":172,"v2":190,"d":0.55},{"t":883,"t2":903,"v":172,"v2":190,"d":0.9},{"t":903,"t2":930,"v":172,"v2":190,"d":0.55},{"t":930,"t2":980,"v":172,"v2":190,"d":0.85},{"t":980,"t2":1033,"v":172,"v2":190,"d":0.55},
{"t":23,"t2":63,"v":328,"v2":347,"d":0.85},{"t":63,"t2":97,"v":328,"v2":347,"d":0.55},{"t":97,"t2":120,"v":328,"v2":347,"d":0.65},{"t":120,"t2":140,"v":328,"v2":347,"d":0.85},{"t":140,"t2":177,"v":328,"v2":347,"d":0.55},{"t":177,"t2":180,"v":328,"v2":347,"d":0.2},{"t":180,"t2":200,"v":328,"v2":347,"d":0.8},{"t":200,"t2":243,"v":328,"v2":347,"d":0.6},{"t":243,"t2":277,"v":328,"v2":347,"d":0.8},{"t":277,"t2":310,"v":328,"v2":347,"d":0.55},{"t":310,"t2":350,"v":328,"v2":347,"d":0.8},{"t":350,"t2":360,"v":328,"v2":347,"d":0.6},
{"t":28,"t2":60,"v":499,"v2":516,"d":0.8},{"t":60,"t2":90,"v":499,"v2":516,"d":0.55},{"t":90,"t2":97,"v":499,"v2":516,"d":0.95},{"t":97,"t2":143,"v":499,"v2":516,"d":0.6},{"t":143,"t2":207,"v":499,"v2":516,"d":0.8},{"t":207,"t2":233,"v":499,"v2":516,"d":0.6},{"t":233,"t2":270,"v":499,"v2":516,"d":0.8},{"t":270,"t2":323,"v":499,"v2":516,"d":0.55},{"t":323,"t2":360,"v":499,"v2":516,"d":0.85},{"t":360,"t2":393,"v":499,"v2":516,"d":0.55},{"t":393,"t2":457,"v":499,"v2":516,"d":0.82},{"t":457,"t2":503,"v":499,"v2":516,"d":0.55},{"t":503,"t2":527,"v":499,"v2":516,"d":0.75},{"t":527,"t2":567,"v":499,"v2":516,"d":0.6},{"t":567,"t2":627,"v":499,"v2":516,"d":0.85},{"t":627,"t2":717,"v":499,"v2":516,"d":0.52},{"t":717,"t2":747,"v":499,"v2":516,"d":0.8},{"t":747,"t2":767,"v":499,"v2":516,"d":0.6},{"t":767,"t2":807,"v":499,"v2":516,"d":0.8},{"t":807,"t2":850,"v":499,"v2":516,"d":0.6},{"t":850,"t2":890,"v":499,"v2":516,"d":0.65},{"t":890,"t2":917,"v":499,"v2":516,"d":0.8},{"t":917,"t2":993,"v":499,"v2":516,"d":0.55},{"t":993,"t2":1027,"v":499,"v2":516,"d":0.8},{"t":1027,"t2":1040,"v":499,"v2":516,"d":0.55}
],
"ann": [
{"t":118,"t2":150,"v":33,"v2":33},{"t":293,"t2":327,"v":33,"v2":33},{"t":483,"t2":521,"v":33,"v2":33},{"t":408,"t2":442,"v":227,"v2":227},{"t":730,"t2":763,"v":227,"v2":227},{"t":957,"t2":990,"v":227,"v2":227},{"t":62,"t2":95,"v":380,"v2":380},{"t":29,"t2":29,"v":114,"v2":163},{"t":29,"t2":54,"v":163,"v2":163}
],
"titles": [
{"t":33,"v":26,"s":"(a) Control Phase"},{"t":483,"v":26,"s":"(b) Policy Phase 1"},{"t":353,"v":190,"s":"Stimulations"},{"t":377,"v":218,"s":"(c) Recovery Phase"},{"t":33,"v":373,"s":"(d) Policy Phase 2"}
],
"xlab": [{"t":27.5,"v":186,"s":"60 sec"}],
"ylab": [{"t":18,"v":133,"s":"2 mV"}]
},
"encoding": {
"x": {"field": "t", "type": "quantitative", "scale": {"domain": [0, 1043], "nice": false, "zero": false}, "axis": null},
"y": {"field": "v", "type": "quantitative", "scale": {"domain": [0, 516], "reverse": true, "nice": false, "zero": false}, "axis": null}
},
"layer": [
{"data": {"name": "stim"}, "mark": {"type": "rect"}, "encoding": {"x2": {"field": "t2"}, "y2": {"field": "v2"}, "color": {"field": "d", "type": "quantitative", "scale": {"domain": [0, 1], "range": ["#ffffff", "#000000"]}, "legend": null}}},
{"data": {"name": "env"}, "mark": {"type": "area", "color": "black", "stroke": "black", "strokeWidth": 0.5, "interpolate": "linear"}, "encoding": {"y2": {"field": "v2"}, "detail": {"field": "r"}}},
{"data": {"name": "spk"}, "mark": {"type": "rule", "color": "black", "strokeWidth": 1.2}, "encoding": {"y2": {"field": "v2"}}},
{"data": {"name": "ann"}, "mark": {"type": "rule", "color": "black", "strokeWidth": 1.2}, "encoding": {"x2": {"field": "t2"}, "y2": {"field": "v2"}}},
{"data": {"name": "titles"}, "mark": {"type": "text", "align": "left", "baseline": "alphabetic", "fontSize": 20.6, "font": "Liberation Sans", "color": "black"}, "encoding": {"text": {"field": "s"}}},
{"data": {"name": "xlab"}, "mark": {"type": "text", "align": "left", "baseline": "alphabetic", "fontSize": 18.3, "font": "Liberation Sans", "color": "black"}, "encoding": {"text": {"field": "s"}}},
{"data": {"name": "ylab"}, "mark": {"type": "text", "align": "center", "baseline": "middle", "angle": 270, "fontSize": 17.5, "font": "Liberation Sans", "color": "black"}, "encoding": {"text": {"field": "s"}}}
]
}
